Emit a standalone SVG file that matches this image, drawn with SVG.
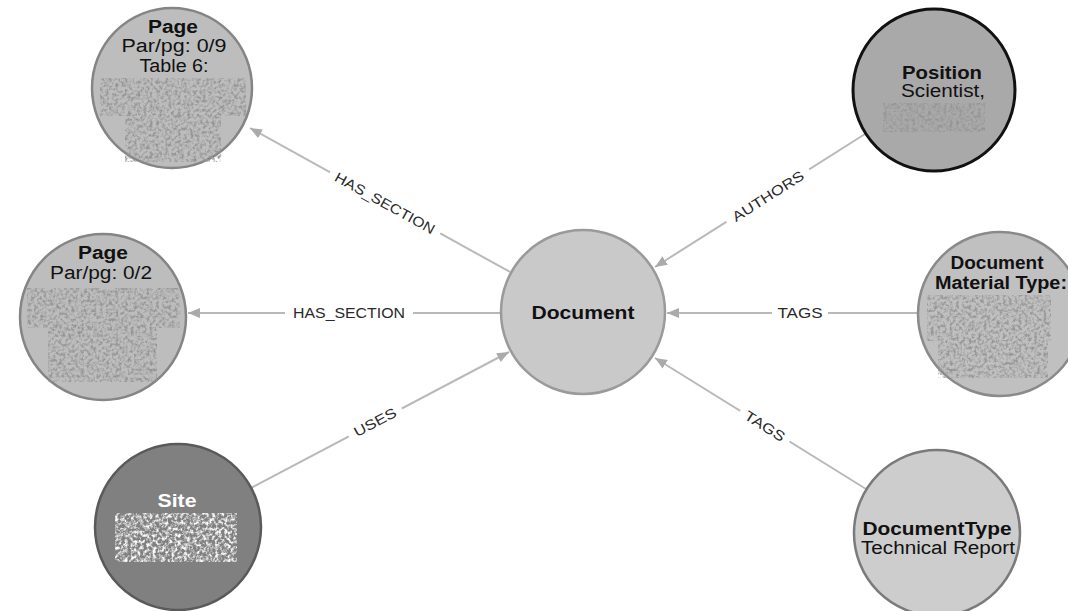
<svg xmlns="http://www.w3.org/2000/svg" width="1068" height="611" viewBox="0 0 1068 611">
<style>
.edge{stroke:#b9b9b9;stroke-width:2;fill:none;marker-end:url(#arr)}
.lbl{font-family:"Liberation Sans",Arial,sans-serif;font-size:14px;fill:#2a2a2a;text-anchor:middle}
.lblbg{fill:#fff}
.t{font-family:"Liberation Sans",Arial,sans-serif;font-size:18px;fill:#111;text-anchor:middle}
.b{font-weight:bold}
.node{stroke-width:2.5}
</style>
<defs>
<marker id="arr" markerUnits="userSpaceOnUse" markerWidth="13" markerHeight="11" refX="12" refY="5" orient="auto">
<path d="M0,0 L12,5 L0,10 Z" fill="#aaaaaa"/>
</marker>
<filter id="noiseDark" x="0" y="0" width="1" height="1">
<feTurbulence type="fractalNoise" baseFrequency="0.32" numOctaves="3" seed="4" result="t"/>
<feColorMatrix in="t" type="matrix" values="0 0 0 0 0.3  0 0 0 0 0.3  0 0 0 0 0.3  3 0 0 0 -1.25" result="d"/>
<feComposite in="d" in2="SourceGraphic" operator="in"/>
</filter>
<filter id="noiseLight" x="0" y="0" width="1" height="1">
<feTurbulence type="fractalNoise" baseFrequency="0.32" numOctaves="3" seed="9" result="t"/>
<feColorMatrix in="t" type="matrix" values="0 0 0 0 0.97  0 0 0 0 0.97  0 0 0 0 0.97  3 0 0 0 -1.2" result="d"/>
<feComposite in="d" in2="SourceGraphic" operator="in"/>
</filter>
</defs>
<rect width="1068" height="611" fill="#ffffff"/>

<g id="connectors">
<line class="edge" x1="510" y1="272" x2="250" y2="128"/>
<line class="edge" x1="500" y1="313" x2="188" y2="313"/>
<line class="edge" x1="251" y1="488" x2="509" y2="352"/>
<line class="edge" x1="865" y1="134" x2="655" y2="267"/>
<line class="edge" x1="918" y1="313" x2="667" y2="313"/>
<line class="edge" x1="866" y1="489" x2="655" y2="358"/>

<g transform="translate(385,203) rotate(29)">
<rect class="lblbg" x="-63" y="-8" width="126" height="16"/>
<text class="lbl" y="5" textLength="112" lengthAdjust="spacingAndGlyphs">HAS_SECTION</text>
</g>
<g transform="translate(349,313)">
<rect class="lblbg" x="-64" y="-8" width="128" height="16"/>
<text class="lbl" y="5" textLength="112" lengthAdjust="spacingAndGlyphs">HAS_SECTION</text>
</g>
<g transform="translate(375,422) rotate(-28)">
<rect class="lblbg" x="-30" y="-8" width="60" height="16"/>
<text class="lbl" y="5" textLength="46" lengthAdjust="spacingAndGlyphs">USES</text>
</g>
<g transform="translate(768,196) rotate(-32.3)">
<rect class="lblbg" x="-49" y="-8" width="98" height="16"/>
<text class="lbl" y="5" textLength="82" lengthAdjust="spacingAndGlyphs">AUTHORS</text>
</g>
<g transform="translate(800,313)">
<rect class="lblbg" x="-28" y="-8" width="56" height="16"/>
<text class="lbl" y="5" textLength="45" lengthAdjust="spacingAndGlyphs">TAGS</text>
</g>
<g transform="translate(765,426) rotate(32)">
<rect class="lblbg" x="-29" y="-8" width="58" height="16"/>
<text class="lbl" y="5" textLength="45" lengthAdjust="spacingAndGlyphs">TAGS</text>
</g>
</g>

<g id="node-document">
<circle class="node" cx="583" cy="312" r="82" fill="#c9c9c9" stroke="#9a9a9a"/>
<text class="t b" x="583" y="319" textLength="103" lengthAdjust="spacingAndGlyphs">Document</text>
</g>

<g id="node-page-1">
<circle class="node" cx="172" cy="88" r="80" fill="#bdbdbd" stroke="#858585"/>
<text class="t b" x="173" y="33" textLength="50" lengthAdjust="spacingAndGlyphs">Page</text>
<text class="t" x="174" y="52" textLength="105" lengthAdjust="spacingAndGlyphs">Par/pg: 0/9</text>
<text class="t" x="174" y="72" textLength="69" lengthAdjust="spacingAndGlyphs">Table 6:</text>
<rect x="100" y="78" width="146" height="38" fill="#000" filter="url(#noiseDark)"/>
<rect x="125" y="114" width="96" height="48" fill="#000" filter="url(#noiseDark)"/>
</g>

<g id="node-page-2">
<circle class="node" cx="103" cy="317" r="83" fill="#bdbdbd" stroke="#858585"/>
<text class="t b" x="103" y="259" textLength="50" lengthAdjust="spacingAndGlyphs">Page</text>
<text class="t" x="101" y="279" textLength="102" lengthAdjust="spacingAndGlyphs">Par/pg: 0/2</text>
<rect x="27" y="288" width="153" height="40" fill="#000" filter="url(#noiseDark)"/>
<rect x="48" y="327" width="109" height="55" fill="#000" filter="url(#noiseDark)"/>
</g>

<g id="node-site">
<circle class="node" cx="178" cy="527" r="83" fill="#808080" stroke="#5a5a5a"/>
<text class="t b" x="177" y="507" style="fill:#ffffff" textLength="39" lengthAdjust="spacingAndGlyphs">Site</text>
<rect x="115" y="513" width="122" height="49" fill="#000" filter="url(#noiseLight)"/>
</g>

<g id="node-position">
<circle cx="934" cy="90" r="81" fill="#a9a9a9" stroke="#111111" stroke-width="3"/>
<text class="t b" x="942" y="79" textLength="80" lengthAdjust="spacingAndGlyphs">Position</text>
<text class="t" x="943" y="97" textLength="84" lengthAdjust="spacingAndGlyphs">Scientist,</text>
<rect x="883" y="103" width="102" height="29" fill="#000" filter="url(#noiseDark)"/>
</g>

<g id="node-document-material-type">
<circle class="node" cx="1000" cy="314" r="82" fill="#c0c0c0" stroke="#8a8a8a"/>
<text class="t b" x="997" y="269" textLength="93" lengthAdjust="spacingAndGlyphs">Document</text>
<text class="t b" x="1001" y="289" textLength="132" lengthAdjust="spacingAndGlyphs">Material Type:</text>
<rect x="927" y="295" width="124" height="46" fill="#000" filter="url(#noiseDark)"/>
<rect x="938" y="340" width="110" height="38" fill="#000" filter="url(#noiseDark)"/>
</g>

<g id="node-documenttype">
<circle class="node" cx="937" cy="533" r="83" fill="#cdcdcd" stroke="#7a7a7a"/>
<text class="t b" x="937" y="535" textLength="149" lengthAdjust="spacingAndGlyphs">DocumentType</text>
<text class="t" x="938" y="554" textLength="154" lengthAdjust="spacingAndGlyphs">Technical Report</text>
</g>
</svg>
